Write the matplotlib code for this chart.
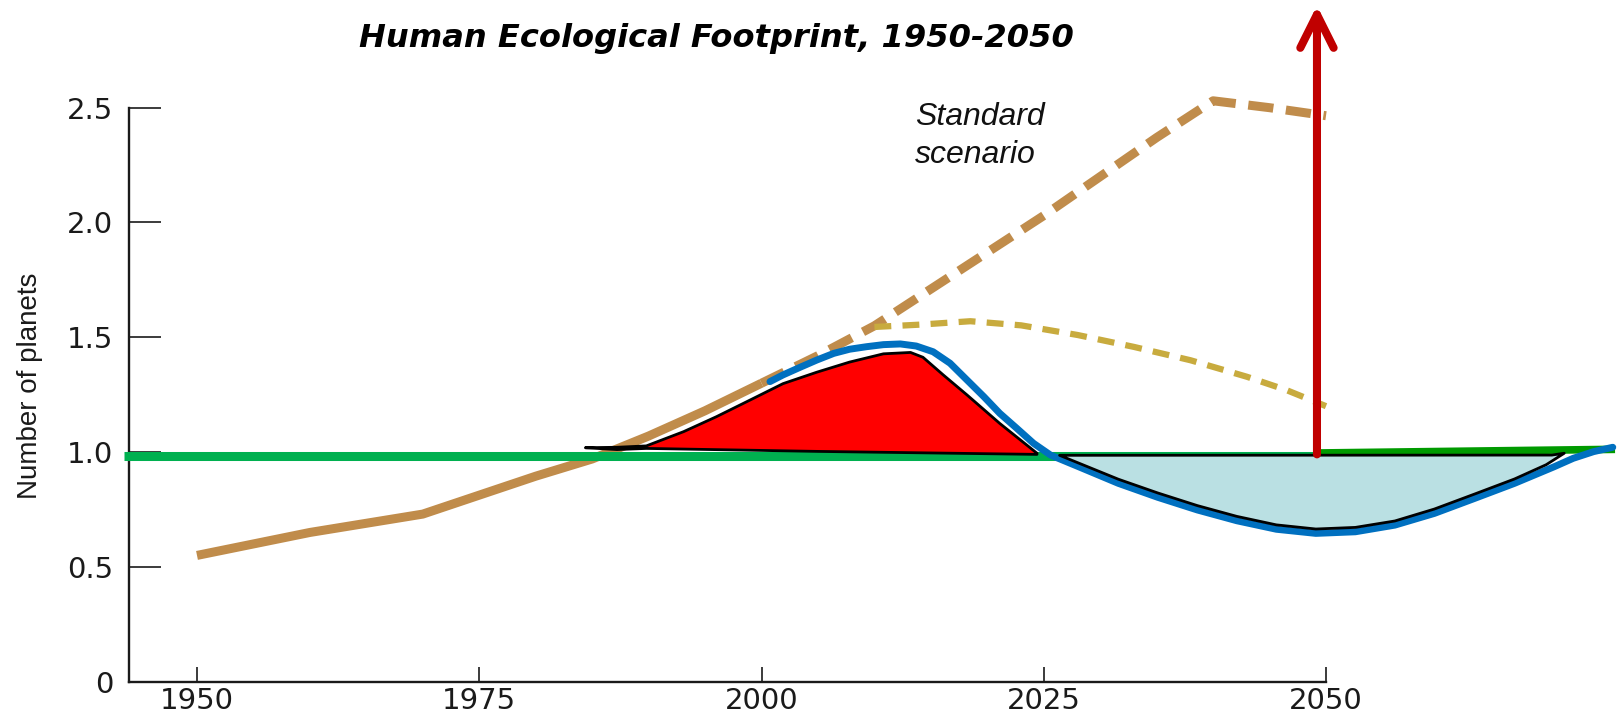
import matplotlib
matplotlib.use("Agg")
import matplotlib.pyplot as plt

# ---------------- data ----------------
hist_years = [1950, 1960, 1970, 1980, 1985, 1990, 1995, 2000]
hist_vals = [0.55, 0.65, 0.73, 0.895, 0.97, 1.07, 1.18, 1.30]

std_years = [2000, 2005, 2010, 2015, 2020, 2025, 2030, 2035, 2040, 2045, 2050]
std_vals = [1.30, 1.42, 1.55, 1.71, 1.87, 2.03, 2.20, 2.37, 2.53, 2.50, 2.465]

alt_years = [2010, 2014, 2018.5, 2023, 2028, 2033, 2038, 2043, 2046.5, 2050]
alt_vals = [1.545, 1.555, 1.57, 1.552, 1.51, 1.458, 1.40, 1.328, 1.27, 1.20]

blue_years = [2000.75, 2001.9, 2003.4, 2004.9, 2006.4, 2007.8, 2009.3, 2010.8,
              2012.3, 2013.7, 2015.2, 2016.7, 2018.2, 2019.7, 2021.1, 2022.6,
              2024.1, 2025.6, 2028.1, 2031.6, 2035.1, 2038.6, 2042.1, 2045.6,
              2049.1, 2052.6, 2056.1, 2059.6, 2063.2, 2066.7, 2070.2, 2071.9,
              2073.7, 2075.4]
blue_vals = [1.307, 1.336, 1.369, 1.401, 1.430, 1.448, 1.459, 1.468,
             1.471, 1.462, 1.437, 1.387, 1.314, 1.241, 1.169, 1.104,
             1.038, 0.987, 0.936, 0.864, 0.803, 0.748, 0.701, 0.664,
             0.646, 0.653, 0.682, 0.733, 0.799, 0.864, 0.936, 0.973,
             1.002, 1.021]

red_years = [1984.4, 1987.2, 1989.8, 1993.1, 1996.0, 1999.0, 2001.9, 2004.9,
             2007.8, 2010.8, 2013.2, 2014.3, 2016.1, 2018.2, 2021.1, 2024.4,
             2024.4, 2005.0, 1989.8, 1987.2, 1984.4]
red_vals = [1.019, 1.021, 1.027, 1.089, 1.154, 1.227, 1.298, 1.348,
            1.392, 1.428, 1.434, 1.413, 1.336, 1.249, 1.125, 0.995,
            0.99, 1.003, 1.016, 1.011, 1.019]

lb_years = [2026.4, 2028.1, 2031.6, 2035.1, 2038.6, 2042.1, 2045.6, 2049.1,
            2052.6, 2056.1, 2059.6, 2063.2, 2066.7, 2069.5, 2071.1, 2070.0,
            2026.4]
lb_vals = [0.986, 0.952, 0.882, 0.822, 0.767, 0.72, 0.683, 0.665,
           0.672, 0.70, 0.752, 0.818, 0.883, 0.945, 0.995, 0.987,
           0.986]

earth_years = [1943.5, 2049.2]
earth_vals = [0.981, 0.981]
earth2_years = [2049.2, 2075.6]
earth2_vals = [0.996, 1.012]

arrow_year = 2049.2
arrow_base = 0.99
arrow_top = 2.945

xticks = [1950, 1975, 2000, 2025, 2050]
yticks = [0, 0.5, 1.0, 1.5, 2.0, 2.5]
ytick_labels = ["0", "0.5", "1.0", "1.5", "2.0", "2.5"]

# ---------------- figure ----------------
W, H = 1620, 714
fig = plt.figure(figsize=(W / 100, H / 100), dpi=100)
ax = fig.add_axes([120 / W, 32.3 / H, 1500 / W, 681.7 / H])
ax.set_xlim(1943.18, 2076.04)
ax.set_ylim(0, 2.969)

for s in ["top", "right"]:
    ax.spines[s].set_visible(False)
ax.spines["left"].set_position(("data", 1944.0))
ax.spines["left"].set_bounds(0, 2.5)
ax.spines["bottom"].set_bounds(1944.0, 2050)
for s in ["left", "bottom"]:
    ax.spines[s].set_linewidth(1.7)
    ax.spines[s].set_color("#1a1a1a")

ax.set_xticks(xticks)
ax.set_xticklabels([str(x) for x in xticks])
ax.set_yticks(yticks)
ax.set_yticklabels(ytick_labels)
ax.tick_params(axis="x", direction="in", length=10.8, width=1.2, color="#1a1a1a",
               pad=4.0, labelsize=21, labelcolor="#1a1a1a")
ax.tick_params(axis="y", direction="in", length=23, width=1.2, color="#1a1a1a",
               pad=11.5, labelsize=21, labelcolor="#1a1a1a")
for lab in ax.get_xticklabels() + ax.get_yticklabels():
    lab.set_family("DejaVu Sans")

# lines
ax.plot(hist_years, hist_vals, color="#c08c4b", lw=6.5, solid_capstyle="butt",
        solid_joinstyle="round", zorder=2)
ax.plot(std_years, std_vals, color="#c08c4b", lw=6.5, dashes=(2.8, 1.4),
        dash_capstyle="butt", zorder=2)
ax.plot(alt_years, alt_vals, color="#c8ab3e", lw=4.5, dashes=(2.7, 1.8),
        dash_capstyle="butt", zorder=2)
ax.plot(earth_years, earth_vals, color="#00b050", lw=6.5, solid_capstyle="butt",
        zorder=3)
ax.plot(earth2_years, earth2_vals, color="#009a00", lw=5.5, solid_capstyle="butt",
        zorder=3)
ax.plot(blue_years, blue_vals, color="#0070c0", lw=5, solid_capstyle="round",
        solid_joinstyle="round", zorder=4)

ax.fill(red_years, red_vals, facecolor="#ff0000", edgecolor="black", lw=2,
        joinstyle="round", zorder=5)
ax.fill(lb_years, lb_vals, facecolor="#bae0e3", edgecolor="black", lw=2,
        joinstyle="round", zorder=5)

ax.annotate("", xy=(arrow_year, arrow_top), xytext=(arrow_year, arrow_base),
            arrowprops=dict(arrowstyle="->,head_length=24,head_width=12",
                            color="#c00000", lw=5.8, mutation_scale=1,
                            capstyle="round", joinstyle="round",
                            shrinkA=0, shrinkB=0),
            zorder=7)

# texts
ax.text(2013.56, 2.425, "Standard", fontsize=23, style="italic",
        family="Liberation Sans", va="baseline", ha="left", color="#111111")
ax.text(2013.56, 2.258, "scenario", fontsize=23, style="italic",
        family="Liberation Sans", va="baseline", ha="left", color="#111111")

fig.text(716 / W, (H - 46.7) / H, "Human Ecological Footprint, 1950-2050",
         fontsize=23.1, weight="bold", style="italic", family="DejaVu Sans",
         ha="center", va="baseline", color="black")

fig.text(30 / W, (H - 386) / H, "Number of planets", rotation=90, fontsize=20,
         family="Liberation Sans", ha="center", va="center", color="#1a1a1a")

fig.savefig("out.png", dpi=100)
